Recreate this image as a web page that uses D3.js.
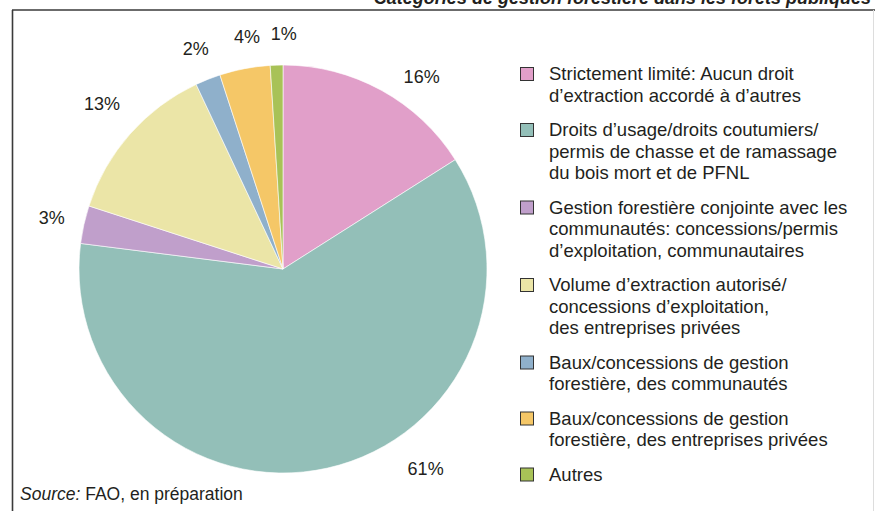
<!DOCTYPE html>
<html>
<head>
<meta charset="utf-8">
<script src="https://cdn.jsdelivr.net/npm/d3@7"></script>
<style>
  html, body { margin: 0; padding: 0; background: #fff; }
  svg { display: block; font-family: "Liberation Sans", Arial, Helvetica, sans-serif; }
</style>
</head>
<body>
<div id="chart"></div>
<script>
// Catégories de gestion forestière dans les forêts publiques (%)
var categories = [
    ["Strictement limité: Aucun droit", "d\u2019extraction accordé à d\u2019autres"],
    ["Droits d\u2019usage/droits coutumiers/", "permis de chasse et de ramassage", "du bois mort et de PFNL"],
    ["Gestion forestière conjointe avec les", "communautés: concessions/permis", "d\u2019exploitation, communautaires"],
    ["Volume d\u2019extraction autorisé/", "concessions d\u2019exploitation,", "des entreprises privées"],
    ["Baux/concessions de gestion", "forestière, des communautés"],
    ["Baux/concessions de gestion", "forestière, des entreprises privées"],
    ["Autres"]
];
var values = [16, 61, 3, 13, 2, 4, 1];
var colors = ["#e19fc9", "#93bfb8", "#c09fcb", "#ebe5a7", "#8fb0cb", "#f5c767", "#a8c257"];

// small angular nudges (degrees) and radial offsets for the percentage labels
var labelShift = [7, -23, 0, 1, 0, 2, 2];
var labelPush = [0, 8, 0, 8, 0, -2, -2];

var width = 875, height = 511;
var cx = 283, cy = 269, radius = 204;

var svg = d3.select("#chart").append("svg")
    .attr("width", width)
    .attr("height", height);

// frame
svg.append("line")
    .attr("x1", 12).attr("x2", width).attr("y1", 10).attr("y2", 10)
    .attr("stroke", "#3a3a3a").attr("stroke-width", 1.6);
svg.append("line")
    .attr("x1", 12.5).attr("x2", 12.5).attr("y1", 10).attr("y2", height)
    .attr("stroke", "#3a3a3a").attr("stroke-width", 1.6);
svg.append("line")
    .attr("x1", 873.5).attr("x2", 873.5).attr("y1", 10).attr("y2", height)
    .attr("stroke", "#dddddd").attr("stroke-width", 1);

// title, mostly cut off at the top as in the original
svg.append("text")
    .attr("x", 871).attr("y", 3.5)
    .attr("text-anchor", "end")
    .style("font-size", "18px")
    .style("font-weight", "bold")
    .style("font-style", "italic")
    .attr("fill", "#231f20")
    .text("Catégories de gestion forestière dans les forêts publiques");

// pie
var pie = d3.pie().sort(null).value(d => d);
var arcs = pie(values);
var arc = d3.arc().innerRadius(0).outerRadius(radius);

var g = svg.append("g").attr("transform", "translate(" + cx + "," + cy + ")");

g.selectAll("path.slice")
    .data(arcs)
    .enter().append("path")
    .attr("class", "slice")
    .attr("d", arc)
    .attr("fill", (d, i) => colors[i])
    .attr("stroke", "#ffffff")
    .attr("stroke-width", 0.6);

// percentage labels
var labelR = 237;
g.selectAll("text.pct")
    .data(arcs)
    .enter().append("text")
    .attr("class", "pct")
    .attr("transform", function (d, i) {
        var a = (d.startAngle + d.endAngle) / 2 + labelShift[i] * Math.PI / 180;
        var r = labelR + labelPush[i];
        return "translate(" + (r * Math.sin(a)) + "," + (-r * Math.cos(a)) + ")";
    })
    .attr("dy", "0.35em")
    .attr("text-anchor", "middle")
    .style("font-size", "18px")
    .attr("fill", "#231f20")
    .text(d => d.value + "%");

// legend
var lineH = 21.5, groupGap = 13;
var legendX = 520, textX = 549;
var starts = [];
var y0 = 80;
categories.forEach(function (lines) {
    starts.push(y0);
    y0 += lines.length * lineH + groupGap;
});

var legend = svg.append("g");
var item = legend.selectAll("g.item")
    .data(categories)
    .enter().append("g")
    .attr("class", "item")
    .attr("transform", (d, i) => "translate(0," + starts[i] + ")");

item.append("rect")
    .attr("x", legendX + 0.5)
    .attr("y", -12.5)
    .attr("width", 13)
    .attr("height", 13)
    .attr("fill", (d, i) => colors[i])
    .attr("stroke", "#333")
    .attr("stroke-width", 1);

item.append("text")
    .attr("x", textX)
    .style("font-size", "18.5px")
    .attr("fill", "#231f20")
    .selectAll("tspan")
    .data(d => d)
    .enter().append("tspan")
    .attr("x", textX)
    .attr("y", (d, j) => j * lineH)
    .text(d => d);

// source
var src = svg.append("text")
    .attr("x", 20).attr("y", 500)
    .style("font-size", "17.5px")
    .attr("fill", "#231f20");
src.append("tspan").style("font-style", "italic").text("Source:");
src.append("tspan").text(" FAO, en préparation");
</script>
</body>
</html>
